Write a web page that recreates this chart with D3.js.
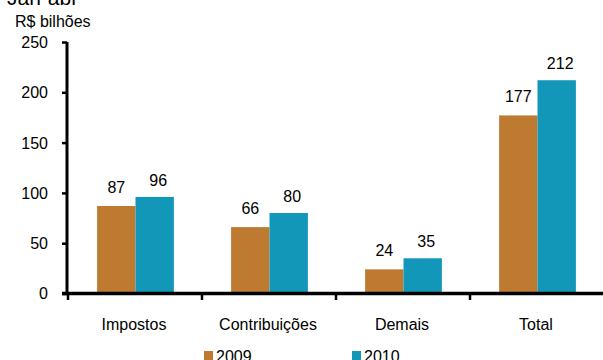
<!DOCTYPE html>
<html>
<head>
<meta charset="utf-8">
<script src="https://cdn.jsdelivr.net/npm/d3@7/dist/d3.min.js"></script>
<style>
  html, body { margin: 0; padding: 0; background: #fff; }
  svg { display: block; font-family: "Liberation Sans", Arial, sans-serif; }
</style>
</head>
<body>
<svg id="chart" width="603" height="360"></svg>
<script>
// Arrecadação por grupo, jan-abr (R$ bilhões)
const categories = ["Impostos", "Contribuições", "Demais", "Total"];
const seriesNames = ["2009", "2010"];
const values2009 = [87, 66, 24, 177];
const values2010 = [96, 80, 35, 212];
const yTicks = [0, 50, 100, 150, 200, 250];

const colors = { "2009": "#BD7A30", "2010": "#1297B9" };
const seriesValues = { "2009": values2009, "2010": values2010 };

const svg = d3.select("#chart");
const W = 603, H = 360;
const plot = { left: 67, right: 603, top: 42, bottom: 293.5 };

const x = d3.scaleBand().domain(categories).range([plot.left, plot.right]).paddingInner(0).paddingOuter(0);
const xInner = d3.scaleBand().domain(seriesNames).range([1.5, x.bandwidth() + 1.5]).paddingInner(0).paddingOuter(0.745);
const y = d3.scaleLinear().domain([0, 250]).range([plot.bottom, plot.top]);

// Title (partially above the frame)
svg.append("text").attr("x", 7).attr("y", 5).attr("font-size", 21).attr("fill", "#000").text("Jan-abr");
svg.append("text").attr("x", 15).attr("y", 26.5).attr("font-size", 16).attr("fill", "#000").text("R$ bilhões");

// Bars with value labels
const groups = svg.append("g").selectAll("g")
  .data(categories)
  .join("g")
  .attr("transform", d => `translate(${x(d)},0)`);

seriesNames.forEach(s => {
  groups.append("rect")
    .attr("x", xInner(s))
    .attr("width", xInner.bandwidth())
    .attr("y", (d, i) => y(seriesValues[s][i]))
    .attr("height", (d, i) => y(0) - y(seriesValues[s][i]))
    .attr("fill", colors[s]);

  groups.append("text")
    .attr("x", xInner(s) + xInner.bandwidth() / 2 + (s === "2010" ? 3.5 : 0))
    .attr("y", (d, i) => y(seriesValues[s][i]) - (s === "2010" ? 11 : 13))
    .attr("text-anchor", "middle")
    .attr("font-size", 16)
    .attr("fill", "#000")
    .text((d, i) => seriesValues[s][i]);
});

// Y axis
const yAxis = d3.axisLeft(y).tickValues(yTicks).tickSize(5).tickPadding(14).tickFormat(d3.format("d"));
const gy = svg.append("g").attr("transform", `translate(${plot.left},0)`).call(yAxis);
gy.select(".domain").attr("stroke", "#000").attr("stroke-width", 3)
  .attr("d", `M0,${plot.top}V${plot.bottom}`);
gy.selectAll(".tick line").attr("stroke", "#000").attr("stroke-width", 2.5);
gy.selectAll(".tick text").attr("font-size", 16).attr("fill", "#000")
  .attr("font-family", "Liberation Sans, Arial, sans-serif").attr("dy", "0.34em");

// X axis with tick marks between categories
const bandEdges = categories.map(c => x(c));
const gx = svg.append("g").attr("transform", `translate(0,${plot.bottom})`);
gx.append("path").attr("d", `M${plot.left - 5},0H${W}`).attr("stroke", "#000").attr("stroke-width", 3.5);
gx.selectAll("line.edge").data(bandEdges).join("line")
  .attr("class", "edge")
  .attr("x1", d => d + 1).attr("x2", d => d + 1)
  .attr("y1", 0).attr("y2", 6.5)
  .attr("stroke", "#000").attr("stroke-width", 2.5);
gx.selectAll("text").data(categories).join("text")
  .attr("x", d => x(d) + x.bandwidth() / 2)
  .attr("y", 36.5)
  .attr("text-anchor", "middle")
  .attr("font-size", 16)
  .attr("fill", "#000")
  .text(d => d);

// Legend
const legendX = { "2009": 204, "2010": 352 };
const lg = svg.append("g").selectAll("g").data(seriesNames).join("g")
  .attr("transform", d => `translate(${legendX[d]},351)`);
lg.append("rect").attr("width", 9).attr("height", 9).attr("fill", d => colors[d]);
lg.append("text").attr("x", 12).attr("y", 10.5).attr("font-size", 16).attr("fill", "#000").text(d => d);
</script>
</body>
</html>
